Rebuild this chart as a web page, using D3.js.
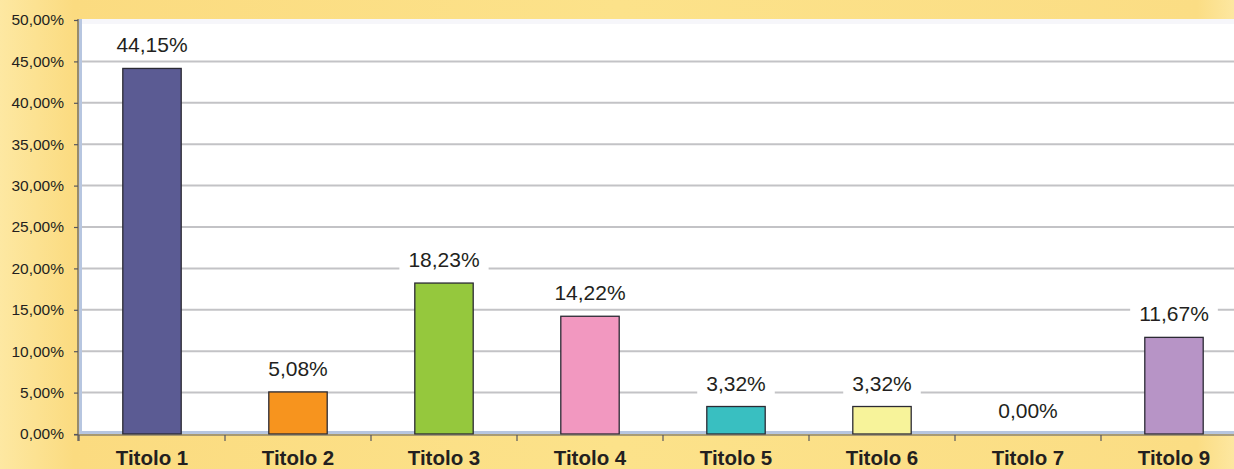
<!DOCTYPE html>
<html>
<head>
<meta charset="utf-8">
<script src="https://cdn.jsdelivr.net/npm/d3@7"></script>
<style>
    html, body { margin: 0; padding: 0; background: #fce08a; }
    svg { display: block; font-family: "Liberation Sans", Arial, sans-serif; }
</style>
</head>
<body>
<svg id="chart" width="1234" height="469"></svg>
<script>
const categories = ["Titolo 1", "Titolo 2", "Titolo 3", "Titolo 4", "Titolo 5", "Titolo 6", "Titolo 7", "Titolo 9"];
const values = [0.4415, 0.0508, 0.1823, 0.1422, 0.0332, 0.0332, 0.0, 0.1167];
const colors = ["#5b5b93", "#f7941e", "#95c83d", "#f298c0", "#39bfc1", "#f7f39a", "#c0c0c0", "#b794c6"];
const yTicks = [0, 0.05, 0.1, 0.15, 0.2, 0.25, 0.3, 0.35, 0.4, 0.45, 0.5];

const W = 1234, H = 469;
const plotLeft = 79, plotTop = 20, plotBottom = 434, plotRight = 1247;

const svg = d3.select("#chart");

const defs = svg.append("defs");
const grad = defs.append("linearGradient").attr("id", "bg").attr("x1", 0).attr("x2", 1).attr("y1", 0).attr("y2", 0);
grad.append("stop").attr("offset", "0%").attr("stop-color", "#fde8a2");
grad.append("stop").attr("offset", "6%").attr("stop-color", "#fbdb80");
grad.append("stop").attr("offset", "50%").attr("stop-color", "#fce28a");
grad.append("stop").attr("offset", "97%").attr("stop-color", "#fbdd84");
grad.append("stop").attr("offset", "100%").attr("stop-color", "#fde7a0");

svg.append("rect").attr("width", W).attr("height", H).attr("fill", "url(#bg)");

const x = d3.scaleBand().domain(categories).range([plotLeft, plotRight]).paddingInner(0.6).paddingOuter(0.3);
const y = d3.scaleLinear().domain([0, 0.5]).range([plotBottom, plotTop]);

const fmt = v => d3.format(".2f")(v * 100).replace(".", ",") + "%";

// plot area
svg.append("rect")
    .attr("x", plotLeft).attr("y", plotTop - 1)
    .attr("width", W - plotLeft).attr("height", plotBottom - plotTop + 1)
    .attr("fill", "#ffffff");
svg.append("rect")
    .attr("x", plotLeft).attr("y", plotTop - 1)
    .attr("width", W - plotLeft).attr("height", 5)
    .attr("fill", "#f6f6fa");

// gridlines
svg.append("g")
    .selectAll("line")
    .data(yTicks.filter(t => t > 0 && t < 0.5))
    .enter().append("line")
    .attr("x1", plotLeft).attr("x2", W)
    .attr("y1", d => y(d)).attr("y2", d => y(d))
    .attr("stroke", "#c3c3c6")
    .attr("stroke-width", 2);

// light blue inner border
svg.append("rect").attr("x", plotLeft).attr("y", plotTop - 1).attr("width", 3).attr("height", plotBottom - plotTop + 1).attr("fill", "#b7c6e0");
svg.append("rect").attr("x", plotLeft).attr("y", plotBottom - 3).attr("width", W - plotLeft).attr("height", 3).attr("fill", "#b7c6e0");

// value labels with white boxes
const labels = svg.append("g");
categories.forEach((c, i) => {
    const cx = x(c) + x.bandwidth() / 2;
    const base = y(values[i]) - 16;
    const t = labels.append("text")
        .attr("x", cx).attr("y", base)
        .attr("text-anchor", "middle")
        .attr("font-size", "21px")
        .attr("fill", "#231f20")
        .text(fmt(values[i]));
    const bb = t.node().getBBox();
    labels.insert("rect", "text")
        .attr("x", bb.x - 9).attr("y", bb.y - 3)
        .attr("width", bb.width + 18).attr("height", bb.height + 4)
        .attr("fill", "#ffffff");
});

// bars
svg.append("g")
    .selectAll("rect")
    .data(values)
    .enter().append("rect")
    .attr("x", (d, i) => x(categories[i]))
    .attr("y", d => y(d))
    .attr("width", x.bandwidth())
    .attr("height", d => y(0) - y(d))
    .attr("fill", (d, i) => colors[i])
    .attr("stroke", "#2b2a33")
    .attr("stroke-width", d => d > 0 ? 1.3 : 0);

// y axis
const yAxis = svg.append("g")
    .attr("transform", `translate(${plotLeft - 1},0)`)
    .call(d3.axisLeft(y).tickValues(yTicks).tickSize(4).tickFormat(fmt));
yAxis.select(".domain").attr("stroke", "#56565e").attr("stroke-width", 1.2)
    .attr("d", `M0,${plotTop - 1}V${plotBottom + 7}`);
yAxis.selectAll(".tick line").attr("stroke", "#56565e").attr("stroke-width", 1.2);
yAxis.selectAll(".tick text")
    .attr("x", -14)
    .attr("font-size", "15.5px")
    .attr("font-family", "Liberation Sans, Arial, sans-serif")
    .attr("fill", "#231f20");

// x axis
const step = x.step();
const bounds = d3.range(categories.length + 1).map(i => plotLeft + i * step);
svg.append("line")
    .attr("x1", plotLeft - 5).attr("x2", W)
    .attr("y1", plotBottom + 1).attr("y2", plotBottom + 1)
    .attr("stroke", "#56565e").attr("stroke-width", 1.2);
svg.append("g")
    .selectAll("line")
    .data(bounds)
    .enter().append("line")
    .attr("x1", d => d).attr("x2", d => d)
    .attr("y1", plotBottom + 1).attr("y2", plotBottom + 7)
    .attr("stroke", "#56565e").attr("stroke-width", 1.2);

svg.append("g")
    .selectAll("text")
    .data(categories)
    .enter().append("text")
    .attr("x", d => x(d) + x.bandwidth() / 2)
    .attr("y", 465)
    .attr("text-anchor", "middle")
    .attr("font-size", "20.5px")
    .attr("font-weight", "bold")
    .attr("fill", "#231f20")
    .text(d => d);
</script>
</body>
</html>
